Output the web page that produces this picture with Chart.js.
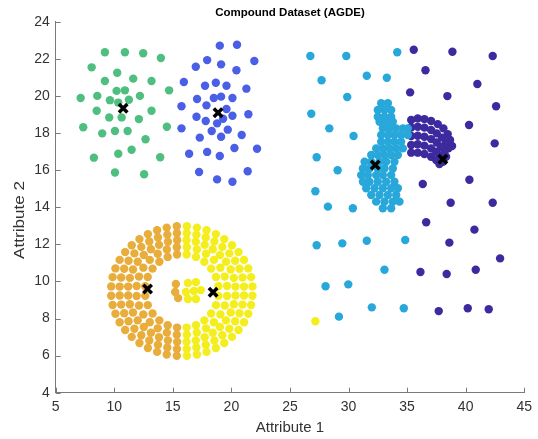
<!DOCTYPE html>
<html><head><meta charset="utf-8">
<script src="https://cdn.jsdelivr.net/npm/chart.js@4/dist/chart.umd.min.js"></script>
<style>html,body{margin:0;padding:0;background:#fff}</style>
</head><body>
<canvas id="c" width="538" height="439"></canvas>
<script>
const xTicks = [5,10,15,20,25,30,35,40,45];
const yTicks = [4,6,8,10,12,14,16,18,20,22,24];
const chartTitle = 'Compound Dataset (AGDE)';
const xTitle = 'Attribute 1';
const yTitleText = 'Attribute 2';

const greenPts = [[9.20,22.35],[10.91,22.35],[12.47,22.30],[13.98,22.04],[8.07,21.54],[10.25,21.25],[9.20,20.80],[11.62,20.93],[13.18,20.80],[14.68,20.30],[7.13,19.89],[8.55,20.00],[10.20,20.27],[10.91,20.30],[12.19,20.00],[9.63,19.77],[10.34,19.64],[11.25,19.79],[8.50,19.20],[13.18,19.20],[9.57,18.84],[10.63,18.84],[12.10,18.75],[7.35,18.31],[8.97,17.98],[10.06,18.11],[11.14,18.11],[14.49,18.34],[12.67,17.66],[11.48,17.10],[10.34,16.88],[8.26,16.67],[13.92,16.69],[10.06,15.87],[12.55,15.78]];

const bluePts = [[19.01,22.71],[20.48,22.76],[17.93,21.93],[16.96,21.57],[19.12,21.70],[21.96,21.88],[20.43,21.38],[15.94,20.75],[17.75,20.55],[18.67,20.71],[19.58,20.55],[21.28,20.39],[17.07,19.83],[18.50,19.89],[19.12,19.96],[20.09,19.89],[15.74,19.44],[17.87,19.49],[19.58,19.29],[17.02,18.88],[17.81,18.65],[18.78,18.52],[19.29,18.77],[20.09,18.93],[21.45,19.01],[15.74,18.25],[18.32,18.11],[19.12,17.80],[19.69,18.18],[17.30,17.75],[20.88,17.89],[16.39,16.88],[17.93,16.98],[19.01,16.76],[20.26,17.19],[22.19,17.15],[17.24,15.90],[18.78,15.50],[20.09,15.37],[21.39,15.94]];

const cyanPts = [[26.74,22.15],[29.81,22.15],[34.16,22.35],[27.70,20.84],[31.56,21.09],[33.27,20.98],[29.89,19.94],[26.82,19.04],[28.36,18.25],[30.43,17.84],[27.28,16.69],[29.07,15.99],[27.17,14.86],[28.24,14.03],[30.37,13.94],[27.28,11.95],[29.47,12.05],[31.56,12.19],[34.84,12.23],[33.07,10.63],[28.04,9.74],[29.98,9.84],[31.99,8.60],[34.72,8.55],[29.18,8.10],
[32.79,19.60],[33.36,19.60],
[32.50,19.24],[33.07,19.24],[33.64,19.24],
[32.50,18.88],[33.07,18.88],[33.64,18.88],
[32.65,18.61],[33.21,18.61],[33.78,18.61],
[32.93,18.25],[33.50,18.25],[34.07,18.25],[34.64,18.25],[35.06,18.25],
[32.79,17.89],[33.36,17.89],[33.92,17.89],[34.49,17.89],[35.06,17.89],
[32.79,17.53],[33.36,17.53],[33.92,17.53],[34.49,17.53],
[32.36,17.17],[32.93,17.17],[33.50,17.17],[34.07,17.17],[34.64,17.17],
[31.94,16.81],[32.50,16.81],[33.07,16.81],[33.64,16.81],[34.21,16.81],
[31.37,16.45],[31.94,16.45],[32.65,16.45],[33.21,16.45],[33.92,16.45],
[31.23,16.09],[31.79,16.09],[32.50,16.09],[33.07,16.09],[33.78,16.09],
[31.08,15.73],[31.65,15.73],[32.36,15.73],[32.93,15.73],[33.64,15.73],
[31.23,15.37],[31.79,15.37],[32.50,15.37],[33.21,15.37],[33.92,15.37],
[31.51,15.02],[32.22,15.02],[32.93,15.02],[33.64,15.02],[34.21,15.02],
[31.94,14.66],[32.65,14.66],[33.36,14.66],[34.07,14.66],
[32.36,14.30],[33.07,14.30],[33.78,14.30],[34.35,14.30],
[32.93,13.94],[33.64,13.94]];

const purplePts = [[35.57,22.49],[38.87,22.38],[42.31,22.15],[36.57,21.38],[41.00,20.64],[35.26,20.19],[38.44,19.99],[42.60,19.44],[40.29,18.43],[42.48,17.44],[36.34,15.25],[40.32,15.48],[38.72,14.24],[42.31,14.24],[36.63,13.19],[40.75,12.79],[38.61,12.09],[42.94,11.24],[36.14,10.51],[38.38,10.40],[40.86,10.63],[37.70,8.40],[40.18,8.55],[41.97,8.50],
[35.35,18.70],[35.91,18.79],[36.48,18.75],[37.05,18.65],[37.62,18.48],[38.10,18.25],[38.47,17.94],[38.67,17.62],[38.84,17.30],
[35.35,18.30],[35.91,18.34],[36.48,18.29],[37.05,18.16],[37.53,17.98],[37.99,17.75],[38.33,17.48],[38.53,17.17],
[35.35,17.84],[35.91,17.85],[36.48,17.80],[37.05,17.67],[37.53,17.49],[37.90,17.26],[38.19,16.99],[38.33,16.72],
[35.35,17.35],[35.91,17.39],[36.48,17.32],[37.05,17.17],[37.48,16.99],[37.82,16.76],[38.05,16.45],
[35.35,16.94],[35.91,16.94],[36.48,16.87],[37.05,16.72],[37.48,16.54],[37.76,16.33]];

const orangePts = [[12.65,9.74],[12.65,9.22],[12.86,10.24],[12.86,8.72],[13.27,10.69],[13.27,8.27],[13.85,11.06],[13.85,7.90],[14.56,11.32],[14.56,7.64],[15.36,11.45],[15.36,7.51],
[11.91,9.75],[11.91,9.21],[12.11,10.26],[12.11,8.70],[12.48,10.74],[12.48,8.22],[13.03,11.16],[13.03,7.80],[13.71,11.49],[13.71,7.47],[14.49,11.72],[14.49,7.24],[15.34,11.84],[15.34,7.12],
[11.19,9.72],[11.19,9.24],[11.33,10.19],[11.33,8.77],[11.60,10.64],[11.60,8.32],[12.00,11.06],[12.00,7.90],[12.52,11.42],[12.52,7.54],[13.13,11.73],[13.13,7.23],[13.82,11.97],[13.82,6.99],[14.58,12.14],[14.58,6.82],[15.37,12.22],[15.37,6.74],
[10.46,9.72],[10.46,9.24],[10.59,10.21],[10.59,8.75],[10.85,10.68],[10.85,8.28],[11.22,11.11],[11.22,7.85],[11.72,11.51],[11.72,7.45],[12.31,11.86],[12.31,7.10],[12.99,12.15],[12.99,6.81],[13.73,12.37],[13.73,6.59],[14.53,12.52],[14.53,6.44],[15.35,12.60],[15.35,6.36],
[9.74,9.73],[9.74,9.23],[9.86,10.23],[9.86,8.73],[10.10,10.70],[10.10,8.26],[10.46,11.16],[10.46,7.80],[10.93,11.58],[10.93,7.38],[11.49,11.95],[11.49,7.01],[12.15,12.28],[12.15,6.68],[12.87,12.55],[12.87,6.41],[13.66,12.76],[13.66,6.20],[14.48,12.90],[14.48,6.06],[15.34,12.97],[15.34,5.99],
[15.26,9.86],[15.20,9.43],[15.45,9.10]];

const yellowPts = [[18.89,9.74],[18.89,9.22],[18.68,10.24],[18.68,8.72],[18.27,10.69],[18.27,8.27],[17.69,11.06],[17.69,7.90],[16.98,11.32],[16.98,7.64],[16.18,11.45],[16.18,7.51],
[19.63,9.75],[19.63,9.21],[19.43,10.26],[19.43,8.70],[19.06,10.74],[19.06,8.22],[18.51,11.16],[18.51,7.80],[17.83,11.49],[17.83,7.47],[17.05,11.72],[17.05,7.24],[16.20,11.84],[16.20,7.12],
[20.35,9.72],[20.35,9.24],[20.21,10.19],[20.21,8.77],[19.94,10.64],[19.94,8.32],[19.54,11.06],[19.54,7.90],[19.02,11.42],[19.02,7.54],[18.41,11.73],[18.41,7.23],[17.72,11.97],[17.72,6.99],[16.96,12.14],[16.96,6.82],[16.17,12.22],[16.17,6.74],
[21.08,9.72],[21.08,9.24],[20.95,10.21],[20.95,8.75],[20.69,10.68],[20.69,8.28],[20.32,11.11],[20.32,7.85],[19.82,11.51],[19.82,7.45],[19.23,11.86],[19.23,7.10],[18.55,12.15],[18.55,6.81],[17.81,12.37],[17.81,6.59],[17.01,12.52],[17.01,6.44],[16.19,12.60],[16.19,6.36],
[21.80,9.73],[21.80,9.23],[21.68,10.23],[21.68,8.73],[21.44,10.70],[21.44,8.26],[21.08,11.16],[21.08,7.80],[20.61,11.58],[20.61,7.38],[20.05,11.95],[20.05,7.01],[19.39,12.28],[19.39,6.68],[18.67,12.55],[18.67,6.41],[17.88,12.76],[17.88,6.20],[17.06,12.90],[17.06,6.06],[16.20,12.97],[16.20,5.99],
[16.29,9.91],[16.97,9.96],[16.12,9.43],[16.80,9.48],[17.39,9.53],[16.29,9.05],[16.97,9.05],
[27.17,7.85]];

const centroidPts = [[10.76,19.33],[18.86,19.09],[32.28,16.27],[38.05,16.58],[12.84,9.59],[18.44,9.41]];

const FONT = 'Liberation Sans, Arial, sans-serif';
const toXY = a => a.map(p => ({x:p[0], y:p[1]}));
const dotDS = (label, pts, color) => ({
  label, data: toXY(pts), backgroundColor: color, borderColor: color,
  borderWidth: 0, pointRadius: 4.2, pointHoverRadius: 4.2, pointStyle: 'circle'
});

const inwardTicks = {
  id: 'inwardTicks',
  afterDatasetsDraw(chart) {
    const {ctx, chartArea: a, scales: {x, y}} = chart;
    ctx.save();
    ctx.strokeStyle = '#7a7a7a';
    ctx.lineWidth = 1;
    ctx.beginPath();
    xTicks.forEach(v => { const p = Math.round(x.getPixelForValue(v)) + 0.5; ctx.moveTo(p, a.bottom); ctx.lineTo(p, a.bottom - 5); });
    yTicks.forEach(v => { const p = Math.round(y.getPixelForValue(v)) + 0.5; ctx.moveTo(a.left, p); ctx.lineTo(a.left + 5, p); });
    ctx.stroke();
    ctx.restore();
  }
};

const yAxisTitle = {
  id: 'yAxisTitle',
  afterDraw(chart) {
    const ctx = chart.ctx;
    ctx.save();
    ctx.translate(20, 220);
    ctx.rotate(-Math.PI / 2);
    ctx.scale(1.14, 1);
    ctx.font = '15px ' + FONT;
    ctx.fillStyle = '#333';
    ctx.textAlign = 'center';
    ctx.textBaseline = 'middle';
    ctx.fillText(yTitleText, 0, 0);
    ctx.restore();
  }
};

new Chart(document.getElementById('c'), {
  type: 'scatter',
  data: {
    datasets: [
      { label: 'Centroids', data: toXY(centroidPts), pointStyle: 'crossRot', pointRadius: 6, pointHoverRadius: 6,
        borderColor: '#000', backgroundColor: '#000', borderWidth: 3.5 },
      dotDS('Cluster 1', greenPts, '#4fbf80'),
      dotDS('Cluster 2', bluePts, '#4a5fe6'),
      dotDS('Cluster 3', cyanPts, '#28a7da'),
      dotDS('Cluster 4', purplePts, '#3d2a9e'),
      dotDS('Cluster 5', yellowPts, '#f4ee1f'),
      dotDS('Cluster 6', orangePts, '#e8ad3b')
    ]
  },
  options: {
    responsive: false,
    devicePixelRatio: 1,
    animation: false,
    layout: { padding: { left: 0, right: 13, top: 0, bottom: 0 } },
    plugins: {
      legend: { display: false },
      tooltip: { enabled: false },
      title: { display: true, fullSize: false, text: chartTitle, color: '#000',
        font: { family: FONT, size: 11.5, weight: 'bold' },
        padding: { top: 6, bottom: 1.9 } }
    },
    scales: {
      x: {
        type: 'linear', min: 5, max: 45,
        ticks: { stepSize: 5, color: '#333', padding: 6, font: { family: FONT, size: 14 } },
        grid: { display: true, drawOnChartArea: false, drawTicks: false },
        border: { display: true, color: '#7a7a7a', width: 1 },
        title: { display: true, text: xTitle, color: '#333', padding: { top: 0, bottom: 2 },
          font: { family: FONT, size: 15 } },
        afterFit(s) { s.height = 46.3; }
      },
      y: {
        type: 'linear', min: 4, max: 24,
        ticks: { stepSize: 2, color: '#333', padding: 6, font: { family: FONT, size: 14 } },
        grid: { display: true, drawOnChartArea: false, drawTicks: false },
        border: { display: true, color: '#7a7a7a', width: 1 },
        title: { display: false },
        afterFit(s) { s.width = 55.7; }
      }
    }
  },
  plugins: [inwardTicks, yAxisTitle]
});
</script>
</body></html>
